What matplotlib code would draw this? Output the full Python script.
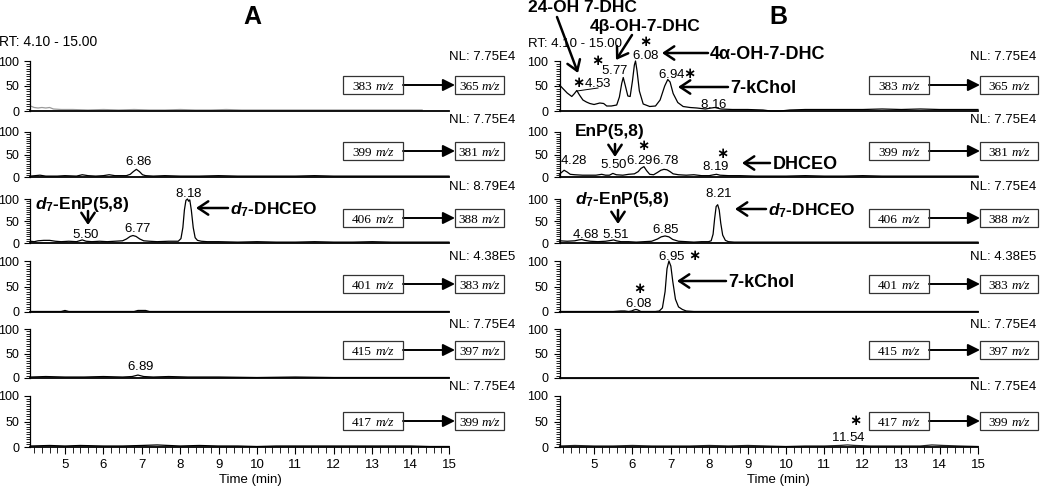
import matplotlib
matplotlib.use('Agg')
import matplotlib.pyplot as plt
from matplotlib.patches import Rectangle
from matplotlib.lines import Line2D
from matplotlib.ticker import MultipleLocator

W, H = 1050, 487
plt.rcParams['font.family'] = ['Liberation Sans', 'DejaVu Sans']
plt.rcParams['mathtext.fontset'] = 'custom'
plt.rcParams['mathtext.rm'] = 'Liberation Sans'
plt.rcParams['mathtext.it'] = 'Liberation Sans:italic:bold'
plt.rcParams['mathtext.bf'] = 'Liberation Sans:bold'
plt.rcParams['mathtext.sf'] = 'DejaVu Sans:bold'

# ---------------- data ----------------
x_range = (4.10, 15.00)
precursor_mz = [383, 399, 406, 401, 415, 417]
product_mz = [365, 381, 388, 383, 397, 399]
nl_A = ['7.75E4', '7.75E4', '8.79E4', '4.38E5', '7.75E4', '7.75E4']
nl_B = ['7.75E4', '7.75E4', '7.75E4', '4.38E5', '7.75E4', '7.75E4']

# Panel A traces (time in min, relative abundance %)
A1_t = [4.1, 4.2, 4.3, 4.4, 4.5, 4.6, 4.7, 4.9, 5.2, 5.6, 6.0, 6.4, 6.8, 7.2, 7.6, 8.0, 8.4, 8.8,
        9.2, 9.6, 10.0, 10.5, 11.0, 11.5, 12.0, 12.5, 13.0, 13.5, 14.0, 14.3]
A1_i = [10, 7, 6, 7, 6, 7, 4, 3, 3, 2, 3, 2, 3, 2, 2, 3, 2, 2, 3, 2, 2, 2, 2, 2, 2, 2, 2, 2, 2, 2]

A2_t = [4.1, 4.35, 4.5, 4.8, 5.0, 5.3, 5.45, 5.6, 5.8, 6.0, 6.15, 6.3, 6.45, 6.6, 6.7, 6.78, 6.86,
        6.94, 7.02, 7.1, 7.3, 7.6, 8.0, 8.5, 9.0, 9.5, 10.0, 10.5, 11.0, 11.5, 12.0, 12.5, 13.0,
        13.5, 14.0, 14.5, 15.0]
A2_i = [2, 4, 2, 2, 3, 2, 5, 3, 2, 3, 5, 3, 3, 3, 6, 12, 17, 12, 5, 3, 2, 3, 2, 2, 3, 2, 2, 2, 2,
        3, 2, 2, 2, 2, 2, 2, 2]

A3_t = [4.1, 4.2, 4.3, 4.45, 4.6, 4.75, 4.9, 5.1, 5.3, 5.45, 5.55, 5.7, 5.9, 6.1, 6.3, 6.5, 6.6,
        6.7, 6.77, 6.85, 6.95, 7.05, 7.2, 7.4, 7.7, 7.95, 8.02, 8.07, 8.11, 8.15, 8.19, 8.22,
        8.25, 8.29, 8.34, 8.39, 8.45, 8.55, 8.7, 9.0, 9.5, 10.0, 10.5, 11.0, 11.5, 12.0, 12.5,
        13.0, 13.5, 14.0, 14.5, 15.0]
A3_i = [4, 3, 5, 6, 6, 4, 3, 4, 3, 7, 4, 3, 4, 3, 4, 5, 9, 15, 17, 15, 9, 5, 4, 3, 4, 4, 10, 35,
        75, 97, 100, 95, 98, 75, 35, 12, 6, 4, 3, 3, 2, 3, 2, 2, 3, 2, 2, 3, 2, 2, 2, 2]

A4_t = [4.1, 4.5, 4.9, 5.0, 5.1, 5.5, 6.0, 6.5, 6.8, 6.9, 7.0, 7.1, 7.2, 7.6, 8.5, 10.0, 11.0,
        12.0, 13.0, 14.0, 15.0]
A4_i = [1, 1, 1, 3, 1, 1, 1, 1, 1, 3, 3, 3, 1, 1, 1, 1, 1, 1, 1, 1, 1]

A5_t = [4.1, 4.5, 5.0, 5.5, 6.0, 6.5, 6.75, 6.85, 6.9, 6.95, 7.05, 7.3, 7.7, 8.2, 9.0, 10.0,
        11.0, 12.0, 13.0, 14.0, 15.0]
A5_i = [2, 3, 2, 2, 3, 2, 3, 5, 6, 5, 3, 2, 3, 2, 2, 1, 2, 1, 1, 1, 1]

A6_t = [4.1, 4.6, 5.0, 5.4, 6.0, 6.5, 7.0, 7.4, 8.0, 8.5, 9.0, 9.5, 10.0, 10.5, 11.0, 11.5,
        12.0, 12.5, 13.0, 13.5, 14.0, 14.5, 15.0]
A6_i = [2, 3, 2, 3, 2, 2, 3, 4, 2, 3, 2, 2, 1, 2, 2, 2, 2, 2, 2, 2, 2, 1, 1]

# Panel B traces
B1_t = [4.1, 4.2, 4.3, 4.42, 4.49, 4.55, 4.62, 4.71, 4.8, 4.89, 5.0, 5.15, 5.25, 5.33, 5.45, 5.59,
        5.66, 5.72, 5.76, 5.81, 5.88, 5.94, 6.0, 6.05, 6.08, 6.12, 6.18, 6.28, 6.45, 6.6, 6.72,
        6.84, 6.92, 6.98, 7.06, 7.18, 7.32, 7.5, 7.68, 7.9, 8.05, 8.15, 8.3, 8.6, 9.0, 9.4, 9.6,
        9.85, 10.1, 10.5, 11.0, 11.5, 12.0, 12.5, 13.0, 13.5, 14.0, 14.5, 15.0]
B1_i = [52, 44, 36, 29, 35, 41, 32, 22, 18, 15, 13, 16, 15, 10, 10, 12, 28, 55, 67, 52, 30, 29,
        60, 92, 100, 80, 40, 14, 9, 10, 22, 50, 63, 58, 35, 17, 9, 7, 6, 4, 6, 7, 4, 3, 3, 2, 0,
        0, 2, 3, 3, 3, 3, 4, 3, 4, 3, 3, 3]

B2_t = [4.1, 4.15, 4.22, 4.3, 4.38, 4.5, 4.7, 4.9, 5.05, 5.2, 5.3, 5.4, 5.49, 5.58, 5.75, 5.9,
        6.05, 6.15, 6.22, 6.3, 6.37, 6.45, 6.55, 6.65, 6.74, 6.82, 6.9, 6.98, 7.06, 7.2, 7.4, 7.6,
        7.8, 8.0, 8.12, 8.19, 8.28, 8.5, 8.8, 9.2, 9.6, 10.0, 10.5, 11.0, 11.5, 12.0, 12.5, 13.0,
        13.5, 14.0, 14.5, 15.0]
B2_i = [6, 10, 15, 11, 6, 5, 4, 4, 4, 6, 4, 4, 8, 5, 4, 6, 7, 12, 19, 23, 14, 6, 5, 10, 15, 17,
        16, 12, 7, 5, 4, 5, 3, 3, 5, 6, 4, 3, 3, 2, 2, 2, 3, 2, 2, 3, 2, 2, 2, 2, 2, 2]

B3_t = [4.1, 4.3, 4.5, 4.6, 4.68, 4.76, 4.9, 5.1, 5.3, 5.45, 5.51, 5.58, 5.7, 5.9, 6.1, 6.3, 6.5,
        6.65, 6.75, 6.85, 6.95, 7.05, 7.2, 7.4, 7.6, 7.8, 7.98, 8.05, 8.1, 8.14, 8.18, 8.22, 8.26,
        8.3, 8.35, 8.42, 8.5, 8.65, 8.9, 9.3, 9.8, 10.3, 10.8, 11.3, 11.8, 12.3, 12.8, 13.3, 13.8,
        14.3, 15.0]
B3_i = [5, 4, 5, 7, 8, 6, 4, 3, 4, 6, 7, 5, 3, 3, 2, 3, 4, 9, 14, 16, 14, 8, 4, 3, 2, 3, 3, 5,
        20, 55, 83, 87, 75, 45, 18, 6, 3, 2, 2, 2, 2, 2, 2, 2, 2, 2, 2, 2, 2, 2, 2]

B4_t = [4.1, 5.0, 5.5, 5.7, 5.8, 5.9, 5.98, 6.04, 6.09, 6.14, 6.22, 6.4, 6.6, 6.7, 6.78, 6.85,
        6.9, 6.95, 7.0, 7.05, 7.12, 7.2, 7.3, 7.4, 7.6, 8.0, 9.0, 10.0, 11.0, 12.0, 13.0, 14.0, 15.0]
B4_i = [1, 1, 1, 2, 2, 1, 2, 4, 5, 4, 1, 1, 1, 2, 8, 40, 85, 100, 90, 60, 25, 10, 5, 2, 1, 1, 1,
        1, 1, 1, 1, 1, 1]

B5_t = [4.1, 5.0, 6.0, 7.0, 8.0, 9.0, 10.0, 11.0, 12.0, 13.0, 14.0, 15.0]
B5_i = [1, 1, 1, 1, 1, 1, 1, 1, 1, 1, 1, 1]

B6_t = [4.1, 4.5, 5.0, 5.5, 6.0, 6.5, 7.0, 7.5, 8.0, 8.5, 9.0, 9.5, 10.0, 10.5, 11.0, 11.4, 11.6,
        11.8, 12.2, 12.6, 13.0, 13.5, 13.8, 14.1, 14.5, 15.0]
B6_i = [2, 3, 2, 2, 3, 2, 2, 2, 3, 2, 3, 2, 1, 2, 2, 3, 4, 3, 2, 2, 2, 2, 4, 3, 2, 1]

traces_A = [(A1_t, A1_i), (A2_t, A2_i), (A3_t, A3_i), (A4_t, A4_i), (A5_t, A5_i), (A6_t, A6_i)]
traces_B = [(B1_t, B1_i), (B2_t, B2_i), (B3_t, B3_i), (B4_t, B4_i), (B5_t, B5_i), (B6_t, B6_i)]
colors_A = ['#9a9a9a', 'k', 'k', 'k', 'k', 'k']
colors_B = ['k', 'k', 'k', 'k', '#555555', '#222222']

# ---------------- layout (pixels) ----------------
row_zero = [111, 177, 243, 312, 378, 447]
row_top = [61, 132, 199, 261, 329, 396]
col_left = [30.4, 559.5]
col_right = [449.0, 978.0]


def fx(x):
    return x / W


def fy(y):
    return 1 - y / H


fig = plt.figure(figsize=(W / 100, H / 100), dpi=100)
fig.patch.set_facecolor('white')

axes = {}
for c, (traces, cols) in enumerate([(traces_A, colors_A), (traces_B, colors_B)]):
    for r in range(6):
        ax = fig.add_axes([fx(col_left[c]), fy(row_zero[r]),
                           (col_right[c] - col_left[c]) / W, (row_zero[r] - row_top[r]) / H])
        ax.patch.set_alpha(0)
        t, i = traces[r]
        ax.plot(t, i, color=cols[r], lw=0.9, clip_on=False)
        ax.set_xlim(*x_range)
        ax.set_ylim(0, 100)
        for s in ['top', 'right']:
            ax.spines[s].set_visible(False)
        ax.spines['left'].set_linewidth(0.9)
        ax.spines['bottom'].set_linewidth(1.3)
        ax.set_yticks([0, 50, 100])
        ax.yaxis.set_minor_locator(MultipleLocator(5))
        ax.tick_params(axis='y', which='major', length=4, width=0.8, labelsize=9, pad=4)
        ax.tick_params(axis='y', which='minor', length=3, width=0.6)
        if r < 5:
            ax.set_xticks([])
            ax.tick_params(axis='x', which='both', length=0)
        else:
            ax.set_xticks(range(5, 16))
            ax.xaxis.set_minor_locator(MultipleLocator(0.2))
            ax.tick_params(axis='x', which='major', length=5, width=0.8, labelsize=9.5, pad=4)
            ax.tick_params(axis='x', which='minor', length=4, width=0.6)
        axes[(c, r)] = ax

ref_ax = axes[(0, 0)]


def T(x, y, s, size=9.5, ha='center', weight='normal', family=None, style='normal'):
    # y is the vertical centre of capital letters / digits, in pixels from top
    off = 0.358 * size * 100 / 72
    kw = dict(fontsize=size, ha=ha, va='baseline', fontweight=weight, style=style)
    if family:
        kw['family'] = family
    fig.text(fx(x), fy(y + off), s, **kw)


def N(x, y, s, size=9.5):
    # numeric peak label (mathtext gives a tight box)
    T(x, y, '$' + s + '$', size=size)


def star(x, y, size=10.5):
    # heavy asterisk; y = approximate centre of the glyph (pixels from top)
    base = y + 0.36 * size * 100 / 72
    fig.text(fx(x), fy(base), '$\\mathsf{\u2217}$', fontsize=size, ha='center', va='baseline')


def arrow(x1, y1, x2, y2, lw=1.8, style='->,head_length=0.45,head_width=0.3', ms=16):
    ref_ax.annotate('', xy=(fx(x2), fy(y2)), xytext=(fx(x1), fy(y1)),
                    xycoords='figure fraction', textcoords='figure fraction',
                    annotation_clip=False,
                    arrowprops=dict(arrowstyle=style, lw=lw, color='k', shrinkA=0, shrinkB=0,
                                    mutation_scale=ms))


# panel letters and headers
T(252, 15, 'A', size=18, weight='bold')
T(778, 15, 'B', size=18, weight='bold')
T(-1, 41, 'RT: 4.10 - 15.00', size=10, ha='left')
T(528, 42, 'RT: 4.10 - 15.00', size=9.5, ha='left')

nl_y = [55, 118, 185, 255, 323, 385]
box_y = [85, 151, 218, 284, 350, 421]
box1 = [(343, 403), (869, 929)]
box2 = [(455, 504), (980, 1038)]
nl_right = [515, 1036]
for c, nls in enumerate([nl_A, nl_B]):
    for r in range(6):
        T(nl_right[c], nl_y[r], 'NL: ' + nls[r], size=9.5, ha='right')
        for (bx0, bx1), mz in [(box1[c], precursor_mz[r]), (box2[c], product_mz[r])]:
            bh = 18
            rect = Rectangle((fx(bx0), fy(box_y[r] + bh / 2)), (bx1 - bx0) / W, bh / H,
                             transform=fig.transFigure, fill=False, lw=0.9, edgecolor='#333333')
            fig.add_artist(rect)
            cx = (bx0 + bx1) / 2
            T(cx - 1, box_y[r], str(mz), size=9.5, ha='right', family='Liberation Serif')
            T(cx + 2.5, box_y[r], 'm/z', size=9.5, ha='left', family='Liberation Serif',
              style='italic')
        arrow(box1[c][1], box_y[r], box2[c][0], box_y[r], lw=1.4,
              style='-|>,head_length=0.6,head_width=0.3', ms=12)

# ---- panel A annotations ----
N(139, 160, '6.86')
N(86, 233, '5.50')
N(137.5, 227, '6.77')
N(189, 192, '8.18')
N(141, 365, '6.89')
T(35, 203, r'$\mathit{d}_{\mathbf{7}}$-EnP(5,8)', size=12.5, ha='left', weight='bold')
arrow(88, 211, 88, 225)
T(230, 208, r'$\mathit{d}_{\mathbf{7}}$-DHCEO', size=12.5, ha='left', weight='bold')
arrow(228, 208, 196, 208)

# ---- panel B annotations ----
T(528, 5.5, '24-OH 7-DHC', size=12.5, ha='left', weight='bold')
arrow(557, 17, 578, 73)
T(590, 25, '4β-OH-7-DHC', size=12.5, ha='left', weight='bold')
arrow(632, 35, 616, 60)
star(578, 82)
N(598, 82, '4.53')
fig.add_artist(Line2D([fx(577), fx(598)], [fy(91), fy(88)], color='k', lw=0.7,
                      transform=fig.transFigure))
star(597, 60)
N(615, 69, '5.77')
star(645, 40.5)
N(646, 54, '6.08')
arrow(708, 53, 662, 53)
T(710, 53, '4α-OH-7-DHC', size=13, ha='left', weight='bold')
N(671.5, 73, '6.94')
star(689.5, 73)
arrow(728, 87, 678, 87)
T(730, 87, '7-kChol', size=13, ha='left', weight='bold')
N(714, 103, '8.16')

T(575, 130, 'EnP(5,8)', size=12.5, ha='left', weight='bold')
arrow(615, 144, 615, 157)
star(643, 145)
N(574, 159, '4.28')
N(613.5, 163, '5.50')
N(639.5, 159, '6.29')
N(665.5, 159, '6.78')
star(722, 153)
N(716, 165, '8.19')
arrow(770, 163, 742, 163)
T(773, 163, 'DHCEO', size=13, ha='left', weight='bold')

T(575, 198, r'$\mathit{d}_{\mathbf{7}}$-EnP(5,8)', size=12.5, ha='left', weight='bold')
arrow(618, 210, 618, 224)
N(585.5, 233, '4.68')
N(616, 233, '5.51')
N(666, 228, '6.85')
N(718.5, 192, '8.21')
arrow(766, 209, 735, 209)
T(768, 209, r'$\mathit{d}_{\mathbf{7}}$-DHCEO', size=12.5, ha='left', weight='bold')

N(671.5, 255, '6.95')
star(694, 255)
arrow(726, 281, 677, 281)
T(728, 281, '7-kChol', size=13, ha='left', weight='bold')
star(639, 288)
N(639, 302, '6.08')

star(855, 420)
N(848, 436, '11.54')

# x-axis titles
T(250, 478, 'Time (min)', size=9.5)
T(778, 478, 'Time (min)', size=9.5)

fig.savefig('out.png', dpi=100)
